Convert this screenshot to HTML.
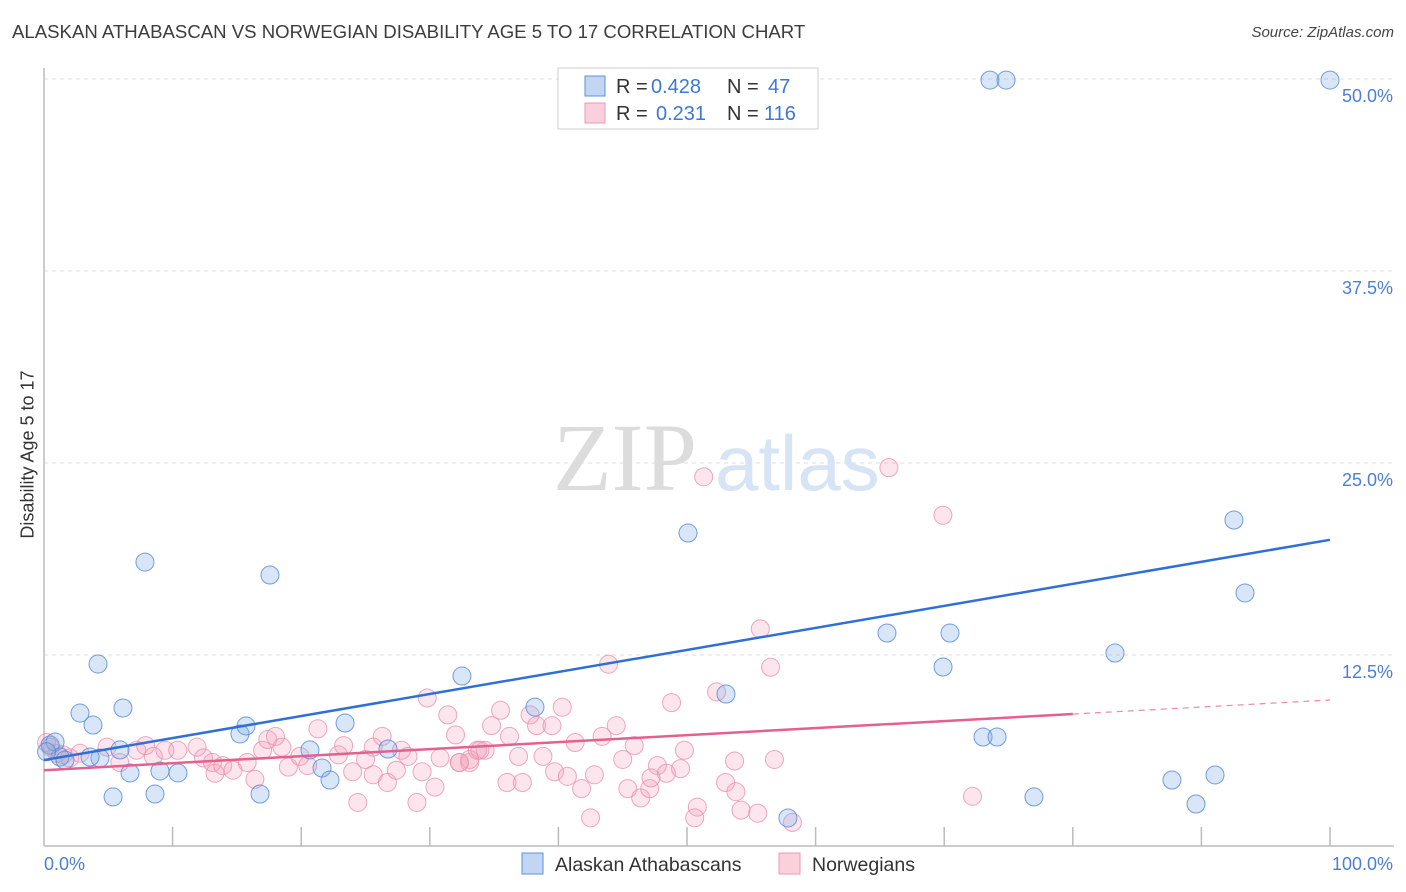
<!DOCTYPE html>
<html><head><meta charset="utf-8"><style>
body{margin:0;background:#fff;font-family:"Liberation Sans",sans-serif;}
#wrap{position:relative;width:1406px;height:892px;overflow:hidden;}
.t{position:absolute;white-space:nowrap;}
</style></head><body>
<div id="wrap">
<div class="t" style="left:12px;top:21px;font-size:18.6px;color:#3c3c3c;">ALASKAN ATHABASCAN VS NORWEGIAN DISABILITY AGE 5 TO 17 CORRELATION CHART</div>
<div class="t" style="right:12px;top:24px;font-size:15px;color:#444;font-style:italic">Source: ZipAtlas.com</div>
<div class="t" style="left:-72px;top:444px;width:200px;text-align:center;font-size:18px;color:#333;transform:rotate(-90deg)">Disability Age 5 to 17</div>
<svg id="svg" width="1406" height="892" style="position:absolute;left:0;top:0"></svg>
</div>
<script>
const blueX=[0.47,0.86,1.24,1.63,2.8,3.81,4.2,5.37,6.14,6.69,7.85,8.63,9.02,10.42,5.91,15.24,15.71,16.8,17.57,20.68,21.62,22.24,23.41,26.75,32.5,38.18,50.08,53.03,57.85,65.55,69.91,70.45,73.02,74.11,73.56,74.81,76.98,83.28,87.71,89.58,91.06,92.53,93.39,100,4.35,3.58,0.2];
const blueY=[6.64,6.84,5.86,5.66,8.72,7.94,11.91,3.26,9.05,4.82,18.55,3.45,4.95,4.82,6.32,7.36,7.88,3.45,17.71,6.32,5.14,4.36,8.07,6.38,11.13,9.11,20.44,9.96,1.89,13.93,11.72,13.93,7.16,7.16,49.93,49.93,3.26,12.63,4.36,2.8,4.69,21.29,16.54,49.93,5.79,5.86,6.2];
const pinkPts=[[0.5,6.5],[1.0,6.1],[2.8,6.1],[4.9,6.5],[5.9,5.5],[7.2,6.3],[7.9,6.6],[8.5,5.9],[9.4,6.3],[10.4,6.3],[11.9,6.5],[12.4,5.8],[13.1,5.5],[13.3,4.8],[13.9,5.3],[14.7,5.0],[15.8,5.5],[16.4,4.4],[17.0,6.3],[17.4,7.0],[18.0,7.2],[18.5,6.5],[19.0,5.2],[19.9,5.9],[20.5,5.3],[21.3,7.7],[22.9,6.0],[23.3,6.6],[24.0,4.9],[24.4,2.9],[25.0,5.7],[25.6,4.7],[25.6,6.5],[26.3,7.2],[26.7,4.2],[27.4,5.0],[27.8,6.3],[28.3,5.9],[29.0,2.9],[29.4,4.9],[29.8,9.7],[30.4,3.9],[30.8,5.8],[31.4,8.6],[32.0,7.3],[32.3,5.5],[33.1,5.5],[33.7,6.3],[43.9,11.9],[35.5,8.9],[37.8,8.6],[38.3,7.9],[39.5,7.9],[40.3,9.1],[34.8,7.9],[36.2,7.2],[34.3,6.3],[33.9,6.3],[33.1,5.7],[32.3,5.5],[36.9,5.9],[38.8,5.9],[41.3,6.8],[43.4,7.2],[44.5,7.9],[45.9,6.6],[48.8,9.4],[52.3,10.1],[56.5,11.7],[49.8,6.3],[45.0,5.7],[47.7,5.3],[48.4,4.8],[49.5,5.1],[36.0,4.2],[37.2,4.2],[39.7,4.9],[40.7,4.6],[41.8,3.8],[42.8,4.7],[45.4,3.8],[46.4,3.2],[47.1,3.8],[47.2,4.5],[42.5,1.9],[50.8,2.6],[50.6,1.9],[53.0,4.2],[53.8,3.6],[54.2,2.4],[55.5,2.2],[53.7,5.6],[56.8,5.7],[58.2,1.6],[51.3,24.1],[65.7,24.7],[69.9,21.6],[55.7,14.2],[72.2,3.3],[0.2,6.8],[1.5,6.0],[2.0,5.8]];
const pinkX=pinkPts.map(p=>p[0]);
const pinkY=pinkPts.map(p=>p[1]);
const blueTrend=[5.66,20.0];
const pinkTrend=[5.0,9.57];
const yTicks=[12.5,25,37.5,50];
const yTickLabels=["12.5%","25.0%","37.5%","50.0%"];
const xTicks=[10,20,30,40,50,60,70,80,90,100];

const NS="http://www.w3.org/2000/svg";
const svg=document.getElementById('svg');
const X=v=>44+v*12.86;
const Y=v=>847-v*15.36;
function mk(tag,at,parent){const e=document.createElementNS(NS,tag);for(const k in at)e.setAttribute(k,at[k]);(parent||svg).appendChild(e);return e;}

yTicks.forEach((t,i)=>{
 const g=mk('line',{x1:44,x2:1394,y1:Y(t),y2:Y(t),stroke:'#ddd','stroke-dasharray':'4,4'});
 
 
 const tx=mk('text',{x:1393,y:Y(t)+23,'text-anchor':'end','font-size':18,fill:'#4a7fd4','font-family':'Liberation Sans'});
 tx.textContent=yTickLabels[i];
 
 
});
const ax=mk('line',{x1:44,x2:44,y1:68,y2:846,stroke:'#bbb','stroke-width':1.5});


const bx=mk('line',{x1:44,x2:1394,y1:846,y2:846,stroke:'#bbb','stroke-width':1.5});


xTicks.forEach(t=>{const l=mk('line',{x1:X(t),x2:X(t),y1:827,y2:846,stroke:'#bbb','stroke-width':1.5});
 
 });
[[44,'start','0.0%','x-min-label'],[1393,'end','100.0%','x-max-label']].forEach(a=>{
 const t=mk('text',{x:a[0],y:870,'text-anchor':a[1],'font-size':18,fill:'#4a7fd4','font-family':'Liberation Sans'});t.textContent=a[2];
 
 });

const wm=mk('text',{x:553,y:490,'font-size':96,'font-family':'Liberation Serif',fill:'#dcdcdc'});wm.textContent='ZIP';


const wm2=mk('text',{x:715,y:490,'font-size':78,'font-family':'Liberation Sans',fill:'#d6e4f5'});wm2.textContent='atlas';



pinkX.forEach((x,i)=>{const c=mk('circle',{cx:X(x),cy:Y(pinkY[i]),r:9,fill:'rgba(244,160,188,0.28)',stroke:'rgba(232,140,170,0.75)','stroke-width':1});
 
 });
blueX.forEach((x,i)=>{const c=mk('circle',{cx:X(x),cy:Y(blueY[i]),r:9,fill:'rgba(130,172,232,0.3)',stroke:'rgba(80,135,215,0.8)','stroke-width':1});
 
 });

const bt=mk('line',{x1:X(0),y1:Y(blueTrend[0]),x2:X(100),y2:Y(blueTrend[1]),stroke:'#2f6fd6','stroke-width':2.5});


const pAt=v=>pinkTrend[0]+(pinkTrend[1]-pinkTrend[0])*v/100;
const pt=mk('line',{x1:X(0),y1:Y(pAt(0)),x2:X(80),y2:Y(pAt(80)),stroke:'#e4608e','stroke-width':2.5});


const pd=mk('line',{x1:X(80),y1:Y(pAt(80)),x2:X(100),y2:Y(pAt(100)),stroke:'#e88aa8','stroke-width':1.2,'stroke-dasharray':'6,5'});



const lg=mk('rect',{x:558,y:68,width:260,height:61,fill:'#fff',stroke:'#ccc'});


[[76,'rgba(120,165,230,0.45)','#5f93dc','0.428','47'],[103,'rgba(244,150,180,0.45)','#eb9ab3','0.231','116']].forEach((r,i)=>{
 const s=mk('rect',{x:585,y:r[0],width:20,height:20,fill:r[1],stroke:r[2]});
 
 
 const t=mk('text',{x:616,y:r[0]+17,'font-size':20,fill:'#333','font-family':'Liberation Sans'});
 t.innerHTML='R = <tspan fill="#3b78d8" x="'+(i?656:651)+'">'+r[3]+'</tspan><tspan x="727">N = </tspan><tspan fill="#3b78d8" x="'+(i?764:768)+'">'+r[4]+'</tspan>';
 
 
});
[[522,'rgba(120,165,230,0.45)','#5f93dc','Alaskan Athabascans','legend-athabascans'],[779,'rgba(244,150,180,0.45)','#eb9ab3','Norwegians','legend-norwegians']].forEach(r=>{
 const s=mk('rect',{x:r[0],y:853,width:21,height:21,fill:r[1],stroke:r[2]});
 
 
 const t=mk('text',{x:r[0]+33,y:871,'font-size':19.5,fill:'#333','font-family':'Liberation Sans'});t.textContent=r[3];
 
 
});
</script>
</body></html>
